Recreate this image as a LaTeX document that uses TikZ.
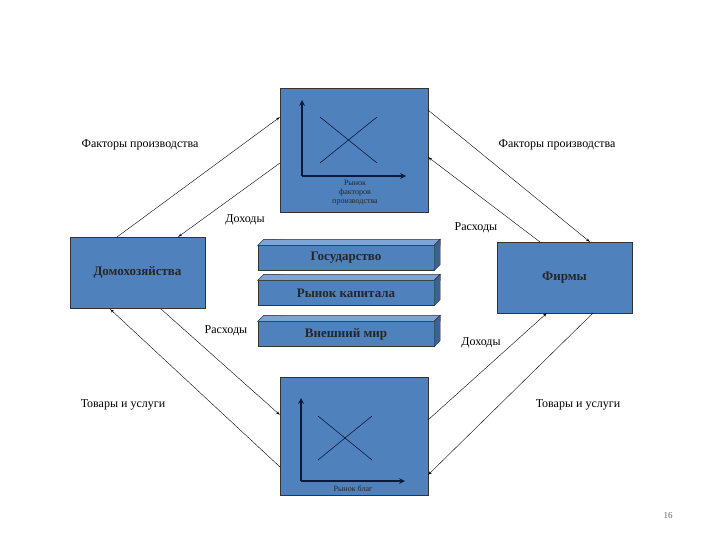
\documentclass[tikz,border=0pt]{standalone}
\usepackage{fontspec}
\setmainfont{Liberation Serif}
\usepackage{tikz}
\usetikzlibrary{arrows, positioning}
\definecolor{boxblue}{HTML}{4F81BD}
\definecolor{boxdark}{HTML}{3A6394}
\definecolor{boxlight}{HTML}{7FA3D3}
\definecolor{axisnavy}{HTML}{0B1A3C}

\begin{document}
\begin{tikzpicture}[x=1pt, y=-1pt]
\tikzset{edge/.style = {->,> = latex'},
  agent/.style = {draw=black!80, fill=boxblue, minimum width=135, minimum height=71, inner sep=0pt, font=\fontsize{13}{15}\selectfont\bfseries, text=black!85},
  market/.style = {draw=black!80, fill=boxblue, minimum width=148, inner sep=0pt},
  slab/.style = {draw=black!80, fill=boxblue, minimum width=176, minimum height=25, inner sep=0pt, font=\fontsize{13}{15}\selectfont\bfseries, text=black!85},
  lbl/.style = {font=\fontsize{12}{14}\selectfont},
  axis/.style = {-stealth, line width=1.6pt, axisnavy},
  curve/.style = {axisnavy, line width=0.6pt}}
\useasboundingbox (0,0) rectangle (720,540);
            % vertices
	\node[agent] (hh) at (137.5,272.5) {Домохозяйства};
	\node[agent] (fi) at (564.5,277.5) {Фирмы};
	\node[market, minimum height=124] (mf) at (354,150) {};
	\node[market, minimum height=118] (mg) at (354,436) {};
	\node[slab] (gov) at (346,258) {Государство};
	\node[slab] (cap) at (346,293) {Рынок капитала};
	\node[slab] (ext) at (346,334) {Внешний мир};
	\foreach \s in {gov,cap,ext}{
	  \draw[black!80, fill=boxlight] (\s.north west) -- ++(6,-6) -- ([xshift=6]\s.north east) -- ++(0,-6) -- (\s.north east) -- cycle;
	  \draw[black!80, fill=boxlight] (\s.north west) -- ++(6,-6) -- ([shift={(6,-6)}]\s.north east) -- (\s.north east) -- cycle;
	  \draw[black!80, fill=boxdark] (\s.north east) -- ++(6,-6) -- ([shift={(6,-6)}]\s.south east) -- (\s.south east) -- cycle;
	}
            % charts
	\draw[axis] (302,176) -- (302,100);
	\draw[axis] (302,176) -- (406,176);
	\draw[curve] (320,117) -- (377,163);
	\draw[curve] (320,163) -- (377,117);
	\node[font=\fontsize{8}{9}\selectfont, align=center, text=black!85] (mft) at (355,193) {Рынок\\факторов\\производства};
	\draw[axis] (301,481) -- (301,398);
	\draw[axis] (301,481) -- (405,481);
	\draw[curve] (318,416) -- (372,460);
	\draw[curve] (318,460) -- (372,416);
	\node[font=\fontsize{8}{9}\selectfont, text=black!85] (mgt) at (353,489) {Рынок благ};
            % coordinates on boxes
	\coordinate (hht1) at (117,237); \coordinate (hht2) at (178,237);
	\coordinate (hhb1) at (110,309); \coordinate (hhb2) at (161,309);
	\coordinate (fit1) at (540,242); \coordinate (fit2) at (590,242);
	\coordinate (fib1) at (547,313); \coordinate (fib2) at (593,313);
	\coordinate (mfl1) at (280,117); \coordinate (mfl2) at (280,163);
	\coordinate (mfr1) at (428,110); \coordinate (mfr2) at (428,157);
	\coordinate (mgl1) at (280,415); \coordinate (mgl2) at (280,467);
	\coordinate (mgr1) at (428,420); \coordinate (mgr2) at (428,475);
            %edges
	\draw[-stealth][edge] (hht1) to (mfl1);
	\draw[-stealth][edge] (mfl2) to (hht2);
	\draw[-stealth][edge] (mfr1) to (fit2);
	\draw[-stealth][edge] (fit1) to (mfr2);
	\draw[-stealth][edge] (hhb2) to (mgl1);
	\draw[-stealth][edge] (mgl2) to (hhb1);
	\draw[-stealth][edge] (mgr1) to (fib1);
	\draw[-stealth][edge] (fib2) to (mgr2);
            % labels
	\node[lbl] (l1) at (140,145) {Факторы производства};
	\node[lbl] (l2) at (557,145) {Факторы производства};
	\node[lbl] (l3) at (245,220) {Доходы};
	\node[lbl] (l4) at (476,228) {Расходы};
	\node[lbl] (l5) at (226,331) {Расходы};
	\node[lbl] (l6) at (481,343) {Доходы};
	\node[lbl] (l7) at (123,405) {Товары и услуги};
	\node[lbl] (l8) at (578,405) {Товары и услуги};
	\node[font=\fontsize{9}{10}\selectfont, text=black!60] (pg) at (668,516) {16};
\end{tikzpicture}
\end{document}
